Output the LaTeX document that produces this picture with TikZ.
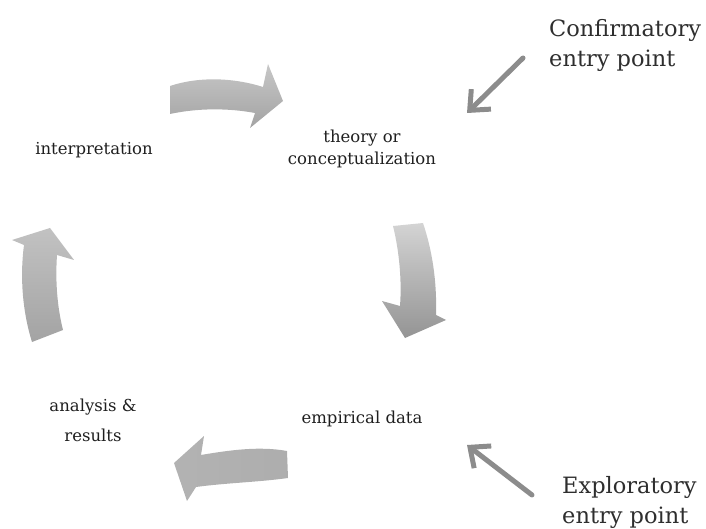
\documentclass[tikz,border=0pt]{standalone}
\usepackage{fontspec}
\setmainfont{DejaVu Serif}
\usetikzlibrary{arrows.meta}

\tikzset{
  cyclelabel/.style={font=\fontsize{16.5}{22}\selectfont, text=black!88, inner sep=0pt, align=center},
  entrylabel/.style={font=\fontsize{22.5}{30}\selectfont, text=black!82, inner sep=0pt, align=left, anchor=west},
  entryarrow/.style={line width=5pt, draw=black!45, line cap=round, line join=round,
    -{Straight Barb[length=16pt,width=28pt]}},
  bigarrow/.style={draw=none, shading=axis},
}

\begin{document}
\begin{tikzpicture}[x=1pt, y=-1pt]

\path [use as bounding box] (0,0) rectangle (706,529);

% LABELS
\node [cyclelabel, anchor=base] (interp) at (94,155) {interpretation};
\node [cyclelabel] (theory) at (362,149) {theory or\\conceptualization};
\node [cyclelabel] (analysis) at (93,420) {analysis \&\\[8pt]results};
\node [cyclelabel, anchor=base] (empdata) at (362,423) {empirical data};

\node [entrylabel] (confirm) at (549,45) {Confirmatory\\entry point};
\node [entrylabel] (explore) at (562,502) {Exploratory\\entry point};

% CYCLE ARROWS
\path [bigarrow, top color=black!22, bottom color=black!36]
  (170,86) .. controls (200,76) and (235,78) .. (263,87) --
  (268,64) -- (283,101) -- (250,128) --
  (255,113) .. controls (228,108) and (198,108) .. (170,114) -- cycle;

\path [bigarrow, top color=black!17, bottom color=black!42]
  (393,226) -- (423,223) .. controls (432,250) and (437,280) .. (436,315) --
  (446,320) -- (405,338) -- (382,301) --
  (400,306) .. controls (402,280) and (399,250) .. (393,226) -- cycle;

\path [bigarrow, left color=black!30, right color=black!32]
  (287,451) -- (288,478) .. controls (260,482) and (225,483) .. (196,487) --
  (187,501) -- (174,463) -- (204,436) --
  (201,455) .. controls (230,450) and (260,446) .. (287,451) -- cycle;

\path [bigarrow, top color=black!24, bottom color=black!36]
  (32,342) .. controls (22,310) and (20,275) .. (24,245) --
  (12,240) -- (50,228) -- (74,260) --
  (57,255) .. controls (55,285) and (58,310) .. (63,330) -- cycle;

% ENTRY POINTS
\coordinate (confirmtail) at (523,58);
\coordinate (confirmtip) at (467,113);
\coordinate (exploretail) at (532,495);
\coordinate (exploretip) at (467,445);
\draw [entryarrow] (confirmtail) -- (confirmtip);
\draw [entryarrow] (exploretail) -- (exploretip);

\end{tikzpicture}
\end{document}
